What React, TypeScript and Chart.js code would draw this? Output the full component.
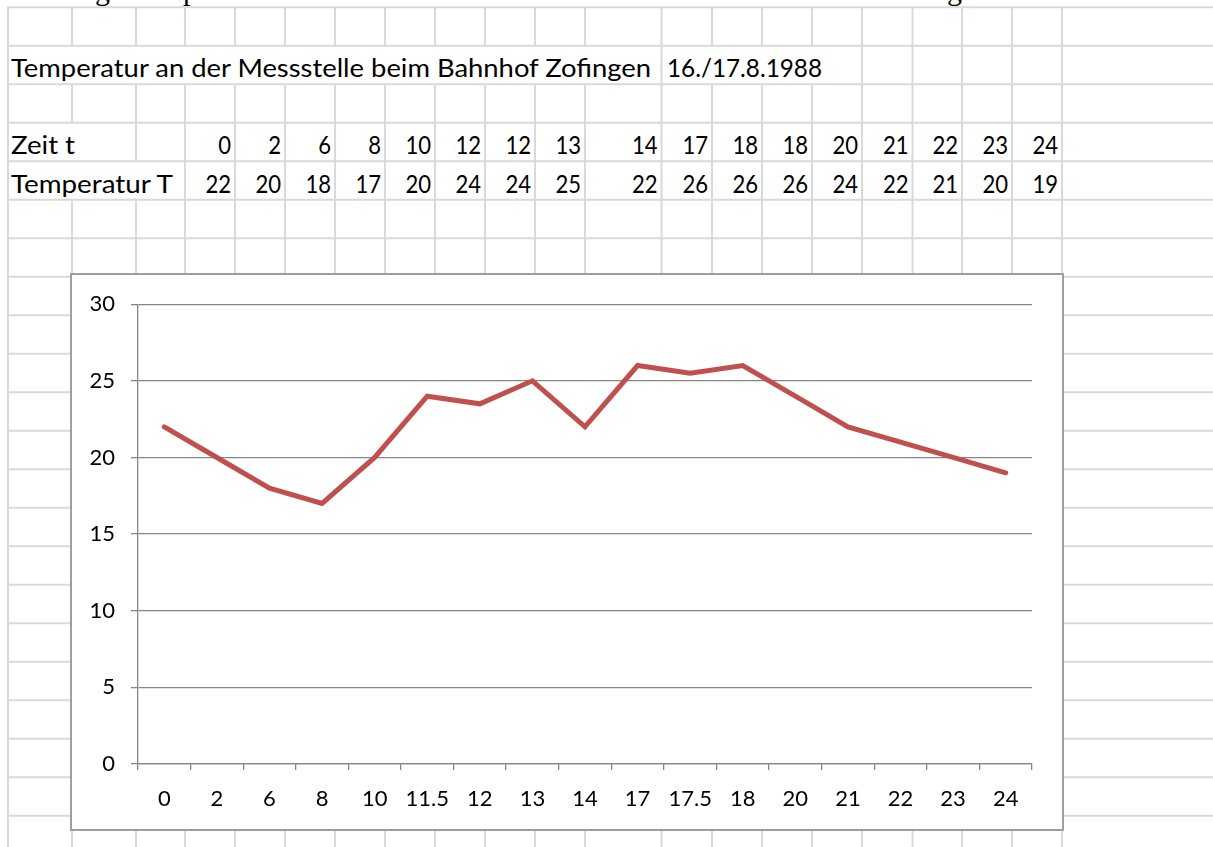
import React, { useEffect, useRef } from 'react';
import { Chart, registerables } from 'chart.js';

Chart.register(...registerables);

// ---- data ----
const chartLabels = ['0', '2', '6', '8', '10', '11.5', '12', '13', '14', '17', '17.5', '18', '20', '21', '22', '23', '24'];
const chartTemps = [22, 20, 18, 17, 20, 24, 23.5, 25, 22, 26, 25.5, 26, 24, 22, 21, 20, 19];
const tableTimes = ['0', '2', '6', '8', '10', '12', '12', '13', '14', '17', '18', '18', '20', '21', '22', '23', '24'];
const tableTemps = ['22', '20', '18', '17', '20', '24', '24', '25', '22', '26', '26', '26', '24', '22', '21', '20', '19'];
const yMin = 0;
const yMax = 30;
const yStep = 5;
const titleText = 'Temperatur an der Messstelle beim Bahnhof Zofingen';
const dateText = '16./17.8.1988';
const rowLabelTime = 'Zeit t';
const rowLabelTemp = 'Temperatur T';

// ---- layout of the spreadsheet background ----
const COLS = [8, 72, 136, 185, 235, 285, 335, 385, 435, 485, 535, 585, 661.5, 712, 762, 812, 862, 912.5, 962, 1012, 1062];
const ROW0 = 7.2;
const RH = 38.5;
const NROWS = 22;
const GRID = '#d9d9d9';
const CELL_FONT = 'Lato';
const CELL_SIZE = 25.5;

const rowTop = (k: number) => ROW0 + RH * k;

function hiddenLine(row: number, x: number): boolean {
  if (row === 1) return (x > 8 && x < 600) || x === 712 || x === 762 || x === 812;
  if (row === 3) return x === 72;
  if (row === 4) return x === 72 || x === 136;
  return false;
}

function Sheet() {
  const lines: React.ReactNode[] = [];
  for (let k = 0; k <= NROWS; k++) {
    const y = rowTop(k);
    lines.push(<line key={'h' + k} x1={7} x2={1213} y1={y} y2={y} stroke={GRID} strokeWidth={2} />);
  }
  for (let k = 0; k < NROWS; k++) {
    for (const x of COLS) {
      if (hiddenLine(k, x)) continue;
      lines.push(
        <line key={'v' + k + '_' + x} x1={x} x2={x} y1={rowTop(k)} y2={rowTop(k + 1)} stroke={GRID} strokeWidth={2} />
      );
    }
  }
  const base = (k: number) => rowTop(k + 1) - 7;
  const numText = (vals: string[], k: number, pre: string) =>
    vals.map((v, i) => (
      <text
        key={pre + i}
        x={COLS[4 + i] - 4}
        y={base(k)}
        textAnchor="end"
        fontFamily={CELL_FONT}
        fontSize={CELL_SIZE}
        textLength={v.length * 12.8}
        lengthAdjust="spacingAndGlyphs"
        fill="#000"
      >
        {v}
      </text>
    ));
  return (
    <svg width={1213} height={847} style={{ position: 'absolute', left: 0, top: 0 }}>
      <rect x={0} y={0} width={1213} height={847} fill="#fff" />
      <text x={95} y={-0.5} fontFamily="Liberation Serif" fontSize={30} fill="#000">g</text>
      <text x={183} y={-0.5} fontFamily="Liberation Serif" fontSize={30} fill="#000">p</text>
      <text x={947} y={-0.5} fontFamily="Liberation Serif" fontSize={30} fill="#000">g</text>
      {lines}
      <text x={11} y={base(1)} fontFamily={CELL_FONT} fontSize={CELL_SIZE} textLength={640} lengthAdjust="spacingAndGlyphs" fill="#000">
        {titleText}
      </text>
      <text x={667} y={base(1)} fontFamily={CELL_FONT} fontSize={CELL_SIZE} textLength={155} lengthAdjust="spacingAndGlyphs" fill="#000">
        {dateText}
      </text>
      <text x={11} y={base(3)} fontFamily={CELL_FONT} fontSize={CELL_SIZE} textLength={64} lengthAdjust="spacingAndGlyphs" fill="#000">
        {rowLabelTime}
      </text>
      <text x={11} y={base(4)} fontFamily={CELL_FONT} fontSize={CELL_SIZE} textLength={162} lengthAdjust="spacingAndGlyphs" fill="#000">
        {rowLabelTemp}
      </text>
      {numText(tableTimes, 3, 't')}
      {numText(tableTemps, 4, 'T')}
    </svg>
  );
}

function TempChart() {
  const ref = useRef<HTMLCanvasElement | null>(null);
  useEffect(() => {
    if (!ref.current) return;
    const axisColor = '#868686';
    const font = { family: 'Lato', size: 22 };
    const chart = new Chart(ref.current, {
      type: 'line',
      data: {
        labels: chartLabels,
        datasets: [
          {
            data: chartTemps,
            borderColor: '#C0504D',
            backgroundColor: '#C0504D',
            borderWidth: 5,
            pointRadius: 0,
            pointHoverRadius: 0,
            tension: 0,
            fill: false,
            borderCapStyle: 'round',
            borderJoinStyle: 'miter',
          },
        ],
      },
      options: {
        animation: false,
        responsive: false,
        events: [],
        layout: { padding: { left: 0, top: 27, right: 30, bottom: 0 } },
        plugins: { legend: { display: false }, tooltip: { enabled: false }, title: { display: false } },
        scales: {
          x: {
            offset: true,
            grid: {
              display: true,
              drawOnChartArea: false,
              drawTicks: true,
              tickLength: 6,
              offset: true,
              color: axisColor,
              lineWidth: 1.3,
            },
            border: { display: true, color: axisColor, width: 1.3 },
            ticks: { color: '#000', font, padding: 16, maxRotation: 0, autoSkip: false },
            afterFit: (s: any) => {
              s.height = 65;
            },
          },
          y: {
            min: yMin,
            max: yMax,
            grid: { color: axisColor, lineWidth: 1.3, tickLength: 7, drawTicks: true },
            border: { display: true, color: axisColor, width: 1.3 },
            ticks: { stepSize: yStep, color: '#000', font, padding: 16 },
            afterFit: (s: any) => {
              s.width = 66;
            },
          },
        },
      },
    } as any);
    return () => chart.destroy();
  }, []);
  return (
    <div
      style={{
        position: 'absolute',
        left: 70,
        top: 273,
        width: 994,
        height: 558,
        boxSizing: 'border-box',
        border: '2px solid #9e9e9e',
        background: '#fff',
      }}
    >
      <canvas ref={ref} width={990} height={554} style={{ display: 'block', width: 990, height: 554 }} />
    </div>
  );
}

export default function App() {
  return (
    <div style={{ position: 'absolute', left: 0, top: 0, width: 1213, height: 847, overflow: 'hidden', background: '#fff' }}>
      <Sheet />
      <TempChart />
    </div>
  );
}
